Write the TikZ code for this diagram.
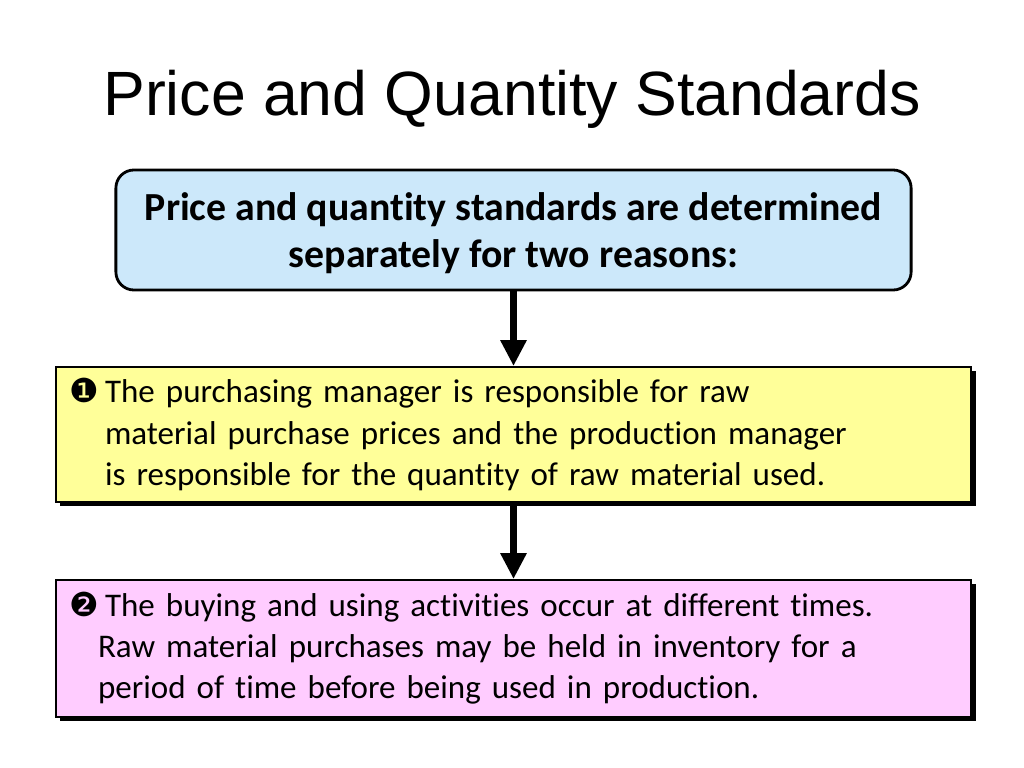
\documentclass[tikz,border=0pt]{standalone}
\usepackage{fontspec}
\usepackage{xcolor}
\usepackage{tikz}
\usetikzlibrary{arrows.meta,shadows}
\setmainfont{Carlito}[Ligatures=NoCommon]
\newfontfamily\titlefont{Liberation Sans}
\newfontfamily\dingfont{DejaVu Sans}
\definecolor{reasonblue}{HTML}{CCE8FA}
\definecolor{reasonyellow}{HTML}{FFFF99}
\definecolor{reasonpink}{HTML}{FFCCFF}
\newcommand{\bul}[1]{\makebox[25pt][l]{\dingfont #1}}

\begin{document}
\begin{tikzpicture}[x=0.025cm,y=-0.025cm,
		headbox/.style={draw, line width=2pt, rounded corners=0.45cm, fill=reasonblue,
			minimum width=19.875cm, minimum height=3cm, align=center, text depth=0pt,
			font=\fontsize{28.3}{33.5}\selectfont\bfseries},
		reasonbox/.style={draw, line width=1.3pt, minimum width=22.875cm,
			inner xsep=0.35cm, text width=22.175cm, align=left,
			font=\fontsize{23.5}{29.2}\selectfont,
			drop shadow={shadow xshift=0.11cm, shadow yshift=-0.11cm, fill=black, opacity=1}},
		downarrow/.style={line width=5pt, -{Triangle[length=0.65cm, width=0.62cm]}}]
			\useasboundingbox (0,0) rectangle (1024,768);
			\node at (512,99) (title){\titlefont\fontsize{44.5}{50}\selectfont Price and Quantity Standards};
			\node[headbox] at (513.5,230) (reasons){Price and quantity standards are determined\\separately for two reasons:};
			\node[reasonbox, fill=reasonyellow, minimum height=3.375cm] at (513.5,434.5) (first){%
				\bul{❶}The purchasing manager is responsible for raw\\
				\hspace*{25pt}material purchase prices and the production manager\\
				\hspace*{25pt}is responsible for the quantity of raw material used.};
			\node[reasonbox, fill=reasonpink, minimum height=3.425cm] at (513.5,648.5) (second){%
				\bul{❷}The buying and using activities occur at different times.\\
				\hspace*{20pt}Raw material purchases may be held in inventory for a\\
				\hspace*{20pt}period of time before being used in production.};
			\draw[downarrow] (reasons.south) -- (first.north);
			\draw[downarrow] (first.south) -- (second.north);
		\end{tikzpicture}
\end{document}
